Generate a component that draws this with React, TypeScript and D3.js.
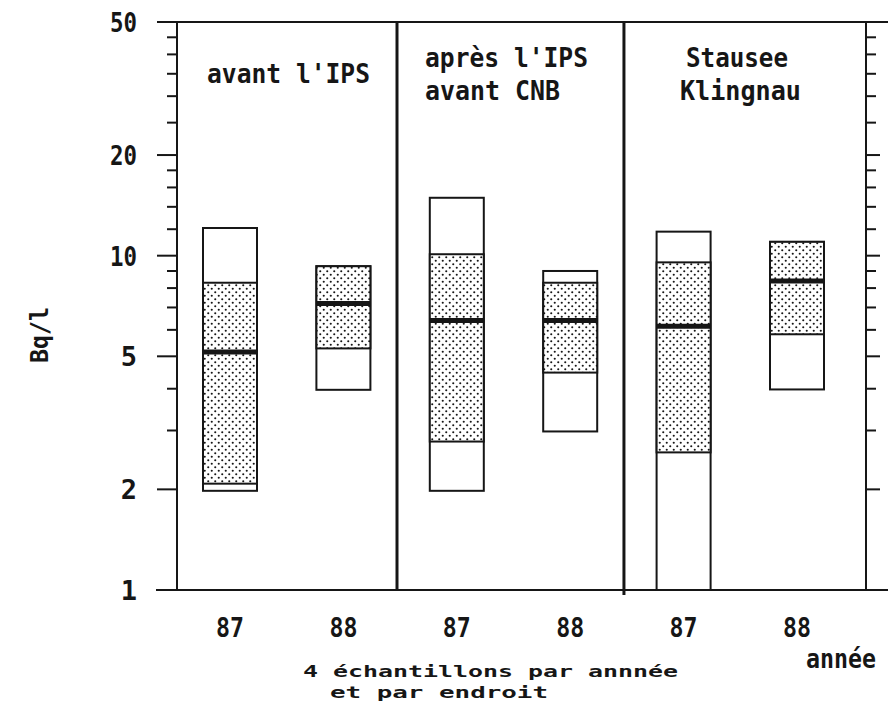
import React from "react";
import * as d3 from "d3";

// ---- data ----
const years = ["87", "88", "87", "88", "87", "88"];
const panelTitles = [["avant l'IPS"], ["après l'IPS", "avant CNB"], ["Stausee", "Klingnau"]];
const maxVals = [12.1, 9.3, 14.9, 9.0, 11.8, 11.0];
const q3Vals = [8.3, 9.3, 10.1, 8.3, 9.55, 11.0];
const medianVals = [5.15, 7.2, 6.4, 6.4, 6.15, 8.4];
const q1Vals = [2.08, 5.28, 2.78, 4.47, 2.58, 5.82];
const minVals = [1.98, 3.97, 1.98, 2.98, 1.0, 3.98];
const majorTicks = [1, 2, 5, 10, 20, 50];
const minorTicks = [3, 4, 6, 7, 8, 9, 12, 14, 16, 18, 25, 30, 35, 40, 45];
const yLabel = "Bq/l";
const xLabel = "année";
const noteLines = ["4 échantillons par annnée", "et par endroit"];

const W = 888;
const H = 705;
const FONT = "'DejaVu Sans Mono', monospace";
const INK = "#161616";

export default function App() {
  const y = d3.scaleLog().domain([1, 50]).range([590, 22]);
  const x = d3.scaleLinear().domain([0, 5]).range([230, 797]);
  const left = 177;
  const right = 866;
  const bw = 54;
  const dividers = [x(1.4727), x(3.474)];
  const titleX = [[207], [425, 425], [686, 680]];
  const titleY = [[83], [67, 100], [67, 100]];
  const titleW = [[163], [163, 135], [102, 121]];

  return (
    <svg width={W} height={H} style={{ position: "absolute", left: 0, top: 0, background: "#fff" }}>
      <defs>
        <pattern id="stip" width={7} height={7} patternUnits="userSpaceOnUse">
          <rect width={7} height={7} fill="#fff" />
          <circle cx={1.75} cy={1.75} r={1.05} fill={INK} />
          <circle cx={5.25} cy={5.25} r={1.05} fill={INK} />
        </pattern>
      </defs>
      <rect width={W} height={H} fill="#fff" />

      {/* frame */}
      <line x1={157} x2={888} y1={y(50)} y2={y(50)} stroke={INK} strokeWidth={2} />
      <line x1={156} x2={888} y1={y(1)} y2={y(1)} stroke={INK} strokeWidth={2} />
      <line x1={left} x2={left} y1={y(50)} y2={y(1)} stroke={INK} strokeWidth={2} />
      <line x1={right} x2={right} y1={y(50)} y2={y(1)} stroke={INK} strokeWidth={2} />
      <line x1={dividers[0]} x2={dividers[0]} y1={y(50)} y2={y(1)} stroke={INK} strokeWidth={3} />
      <line x1={dividers[1]} x2={dividers[1]} y1={y(50)} y2={y(1) + 5} stroke={INK} strokeWidth={3} />

      {/* ticks */}
      {majorTicks.map((t) => (
        <g key={"M" + t}>
          <line x1={157} x2={left} y1={y(t)} y2={y(t)} stroke={INK} strokeWidth={2} />
          <line x1={right} x2={880} y1={y(t)} y2={y(t)} stroke={INK} strokeWidth={2} />
          <text
            x={137}
            y={y(t) + 10}
            textAnchor="end"
            fontFamily={FONT}
            fontWeight="bold"
            fontSize={27}
            fill={INK}
            {...(String(t).length > 1 ? { textLength: 27, lengthAdjust: "spacingAndGlyphs" } : {})}
          >
            {t}
          </text>
        </g>
      ))}
      {minorTicks.map((t) => (
        <g key={"m" + t}>
          <line x1={167} x2={left} y1={y(t)} y2={y(t)} stroke={INK} strokeWidth={2} />
          <line x1={right} x2={876} y1={y(t)} y2={y(t)} stroke={INK} strokeWidth={2} />
        </g>
      ))}

      {/* boxes */}
      {years.map((yr, i) => {
        const cx = x(i);
        const x0 = cx - bw / 2;
        return (
          <g key={"b" + i}>
            <rect x={x0} y={y(maxVals[i])} width={bw} height={y(minVals[i]) - y(maxVals[i])} fill="#fff" stroke={INK} strokeWidth={2} />
            <rect x={x0} y={y(q3Vals[i])} width={bw} height={y(q1Vals[i]) - y(q3Vals[i])} fill="url(#stip)" stroke={INK} strokeWidth={2} />
            <line x1={x0} x2={x0 + bw} y1={y(medianVals[i])} y2={y(medianVals[i])} stroke={INK} strokeWidth={5} />
            <text x={cx} y={637} textAnchor="middle" fontFamily={FONT} fontWeight="bold" fontSize={27} fill={INK} textLength={28} lengthAdjust="spacingAndGlyphs">
              {yr}
            </text>
          </g>
        );
      })}

      {/* panel titles */}
      {panelTitles.map((lines, p) =>
        lines.map((s, k) => (
          <text key={"t" + p + k} x={titleX[p][k]} y={titleY[p][k]} fontFamily={FONT} fontWeight="bold" fontSize={26} fill={INK} textLength={titleW[p][k]} lengthAdjust="spacingAndGlyphs">
            {s}
          </text>
        ))
      )}

      {/* axis labels */}
      <text transform="translate(48,335) rotate(-90)" textAnchor="middle" fontFamily={FONT} fontWeight="bold" fontSize={24} fill={INK} textLength={56} lengthAdjust="spacingAndGlyphs">
        {yLabel}
      </text>
      <text x={806} y={668} fontFamily={FONT} fontWeight="bold" fontSize={27} fill={INK} textLength={70} lengthAdjust="spacingAndGlyphs">
        {xLabel}
      </text>
      <text x={303} y={677} fontFamily={FONT} fontWeight="bold" fontSize={16} fill={INK} textLength={375} lengthAdjust="spacingAndGlyphs">
        {noteLines[0]}
      </text>
      <text x={330} y={698} fontFamily={FONT} fontWeight="bold" fontSize={16} fill={INK} textLength={218} lengthAdjust="spacingAndGlyphs">
        {noteLines[1]}
      </text>
    </svg>
  );
}
